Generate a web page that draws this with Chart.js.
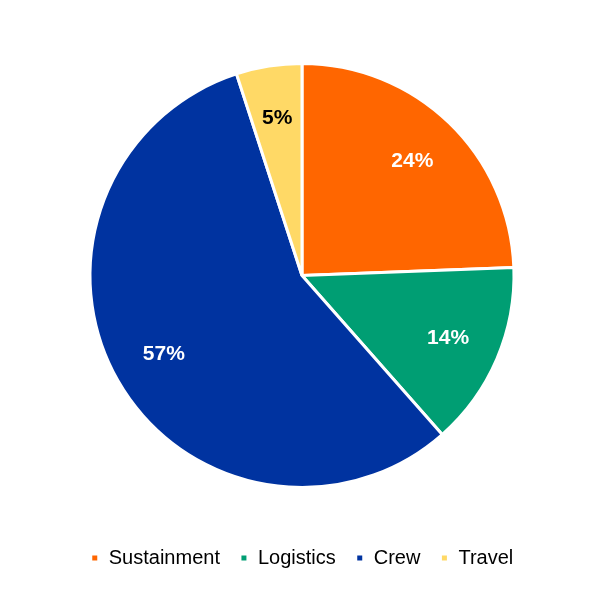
<!DOCTYPE html>
<html>
<head>
<meta charset="utf-8">
<script src="https://cdn.jsdelivr.net/npm/chart.js@4/dist/chart.umd.min.js"></script>
<style>
  html, body { margin: 0; padding: 0; background: #fff; }
  #wrap { width: 615px; height: 598px; }
</style>
</head>
<body>
<div id="wrap"><canvas id="myChart"></canvas></div>
<script>
const categories = ['Sustainment', 'Logistics', 'Crew', 'Travel'];
const shares = [24.4, 14.1, 56.5, 5.0];
const colors = ['#ff6600', '#009e73', '#0033a0', '#ffd966'];
const labelColors = ['#ffffff', '#ffffff', '#ffffff', '#000000'];

// draws the percent text inside each slice (no datalabels plugin offline)
const sliceLabels = {
	id: 'sliceLabels',
	afterDatasetsDraw(chart) {
		const c = chart.ctx;
		const meta = chart.getDatasetMeta(0);
		c.save();
		c.font = 'bold 21px "Liberation Sans", Arial, sans-serif';
		c.textAlign = 'center';
		c.textBaseline = 'middle';
		meta.data.forEach((arc, i) => {
			const mid = (arc.startAngle + arc.endAngle) / 2;
			const r = arc.outerRadius * 0.75;
			c.fillStyle = labelColors[i];
			c.fillText(Math.round(shares[i]) + '%', arc.x + Math.cos(mid) * r, arc.y + Math.sin(mid) * r);
		});
		c.restore();
	},
};

new Chart(document.getElementById('myChart'), {
	type: 'pie',
	data: {
		labels: categories,
		datasets: [
			{
				data: shares,
				backgroundColor: colors,
				borderColor: '#ffffff',
				borderWidth: 3,
			},
		],
	},
	options: {
		responsive: true,
		maintainAspectRatio: false,
		animation: false,
		layout: {
			padding: { top: 62, bottom: 20, left: 0, right: 11 },
		},
		plugins: {
			legend: {
				position: 'bottom',
				// empty title only used as a spacer above the legend row
				title: { display: true, text: '', font: { size: 10 }, padding: { top: 27, bottom: 0 } },
				labels: {
					boxWidth: 8,
					boxHeight: 8,
					padding: 20,
					color: '#000',
					font: { size: 20, family: '"Liberation Sans", Arial, sans-serif' },
				},
			},
			tooltip: false,
		},
	},
	plugins: [sliceLabels],
});
</script>
</body>
</html>
